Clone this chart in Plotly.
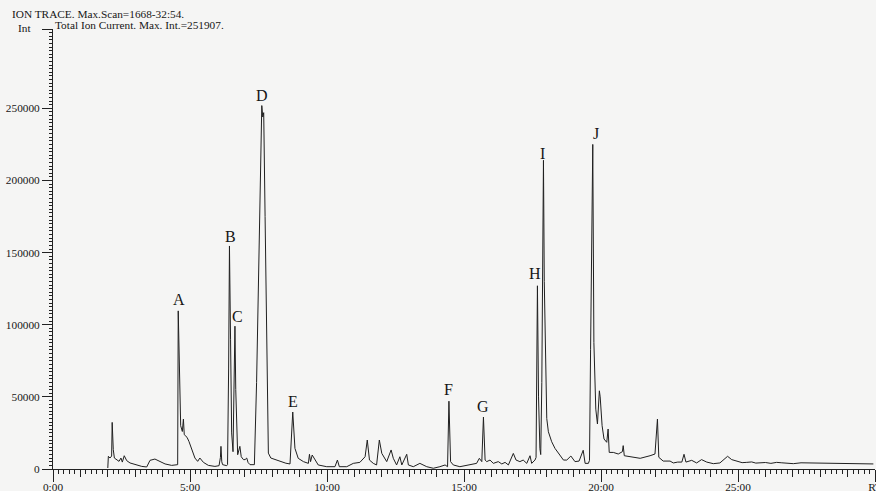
import plotly.graph_objects as go

# ---- data (retention time in minutes, intensity counts) ----
rt_min = [
    2.00, 2.02, 2.08, 2.14, 2.16, 2.20, 2.24, 2.32, 2.41, 2.48, 2.53, 2.60, 2.69, 2.81, 2.99,
    3.24, 3.42, 3.54, 3.72, 3.91, 4.09, 4.33, 4.53, 4.55, 4.57, 4.61, 4.66, 4.72, 4.76, 4.79,
    4.84, 4.89, 4.96, 5.06, 5.18, 5.28, 5.36, 5.49, 5.67, 5.91, 6.06, 6.11, 6.13, 6.16, 6.19,
    6.34, 6.37, 6.41, 6.44, 6.48, 6.52, 6.57, 6.61, 6.64, 6.67, 6.71, 6.74, 6.82, 6.87, 6.95,
    7.01, 7.07, 7.12, 7.19, 7.35, 7.43, 7.50, 7.56, 7.62, 7.655, 7.69, 7.74, 7.80, 7.86, 7.95,
    8.10, 8.30, 8.50, 8.65, 8.68, 8.75, 8.83, 8.95, 9.14, 9.32, 9.36, 9.40, 9.46, 9.56, 9.68,
    9.99, 10.29, 10.38, 10.45, 10.72, 10.96, 11.20, 11.39, 11.47, 11.55, 11.69, 11.81, 11.91, 12.00, 12.18,
    12.34, 12.42, 12.54, 12.66, 12.73, 12.91, 12.97, 13.15, 13.39, 13.64, 13.88, 14.12, 14.31, 14.40, 14.45,
    14.51, 14.61, 14.85, 15.22, 15.46, 15.56, 15.65, 15.71, 15.77, 15.83, 15.95, 16.07, 16.25, 16.38, 16.50,
    16.62, 16.80, 16.90, 17.04, 17.16, 17.29, 17.41, 17.47, 17.59, 17.63, 17.68, 17.72, 17.77, 17.80, 17.84,
    17.90, 17.93, 17.96, 18.02, 18.08, 18.20, 18.32, 18.44, 18.63, 18.75, 18.90, 19.05, 19.20, 19.35, 19.42,
    19.54, 19.58, 19.62, 19.67, 19.70, 19.74, 19.81, 19.87, 19.94, 19.97, 20.04, 20.11, 20.21, 20.26, 20.30,
    20.45, 20.63, 20.78, 20.81, 20.85, 21.18, 21.43, 21.79, 21.97, 22.06, 22.11, 22.27, 22.52, 22.64, 22.80,
    22.95, 23.03, 23.10, 23.31, 23.49, 23.67, 23.86, 24.10, 24.34, 24.53, 24.62, 24.77, 24.95, 25.15, 25.32,
    25.50, 25.65, 25.80, 26.00, 26.20, 26.41, 26.60, 26.80, 27.02, 27.30, 27.63, 27.90, 28.24, 28.50, 28.84,
    29.10, 29.45, 29.70, 29.94,
]
intensity = [
    700, 8800, 7600, 9000, 32300, 13400, 7600, 6500, 5300, 7600, 4800, 9200, 5800, 4200, 3000,
    1800, 1400, 6000, 6900, 5300, 3500, 2500, 3000, 3000, 109600, 60000, 30000, 26000, 34600, 23800,
    22600, 22000, 19200, 13400, 7600, 5300, 7600, 4600, 2500, 1800, 2300, 8000, 15700, 5000, 3000,
    2300, 3000, 70000, 154600, 90000, 25000, 12000, 50000, 99000, 55000, 15000, 9900, 15700, 8500, 6500,
    6500, 7600, 4500, 3000, 3000, 60000, 130000, 195000, 251907, 244000, 247000, 175000, 80000, 11000, 7600,
    6500, 5000, 4000, 3500, 15000, 39500, 14300, 7400, 5100, 3900, 10200, 5100, 9700, 6200, 2800,
    1600, 1600, 6200, 1600, 1600, 3900, 4600, 8500, 20100, 6200, 3900, 2800, 20100, 10800, 5100,
    13200, 7400, 2800, 8500, 2800, 10200, 2800, 1600, 3900, 1600, 500, 1600, 2800, 1600, 47000,
    5100, 2800, 1600, 2800, 3900, 7400, 5100, 36000, 6200, 5100, 6200, 3900, 5100, 3500, 4600,
    2800, 10800, 6200, 5100, 6200, 3900, 9200, 3900, 6200, 8000, 127000, 50000, 14000, 10000, 60000,
    214000, 130000, 88000, 35000, 25800, 18900, 14300, 10800, 6200, 6200, 9000, 5100, 5500, 13000, 3900,
    3900, 6000, 83000, 150000, 225000, 87700, 41500, 31200, 54200, 50000, 30000, 20800, 18500, 27700, 11500,
    11500, 10400, 12000, 16200, 9200, 8100, 7400, 9200, 10400, 34600, 8100, 5500, 5500, 4200, 4800,
    4800, 10200, 4800, 6000, 4200, 6500, 4800, 3700, 4200, 7200, 8800, 6500, 5500, 4400, 4600,
    4900, 4100, 4200, 4500, 3900, 4600, 4300, 3800, 3700, 4300, 4200, 3800, 3700, 4100, 3500,
    3900, 3700, 3400, 3500,
]

peak_labels = ["A", "B", "C", "D", "E", "F", "G", "H", "I", "J"]
peak_label_rt = [4.60, 6.48, 6.75, 7.63, 8.75, 14.43, 15.70, 17.59, 17.86, 19.82]
peak_label_int = [117700, 161000, 106000, 259000, 46600, 55200, 43100, 135500, 218600, 232700]

x_major_vals = [0, 5, 10, 15, 20, 25, 30]
x_major_text = ["0:00", "5:00", "10:00", "15:00", "20:00", "25:00", "RT"]
y_major_vals = [0, 50000, 100000, 150000, 200000, 250000, 305000]
y_major_text = ["0", "50000", "100000", "150000", "200000", "250000", ""]

header_line1 = "ION TRACE. Max.Scan=1668-32:54."
header_line2 = "Total Ion Current. Max. Int.=251907."
y_title = "Int"

SERIF = "Liberation Serif"
INK = "#151515"
BG = "#f5f5f4"

fig = go.Figure()
fig.add_trace(go.Scatter(
    x=rt_min, y=intensity, mode="lines",
    line=dict(color="#202020", width=1),
    showlegend=False, hoverinfo="skip",
))
# empty trace to host the overlay axis carrying the long 5-minute ticks
fig.add_trace(go.Scatter(x=[], y=[], xaxis="x2", showlegend=False, hoverinfo="skip"))

annotations = []
for lab, xr, yi in zip(peak_labels, peak_label_rt, peak_label_int):
    annotations.append(dict(
        x=xr, y=yi, xref="x", yref="y", text=lab, showarrow=False,
        xanchor="center", yanchor="middle",
        font=dict(family=SERIF, size=16, color=INK),
    ))

W, H = 876, 491
L, R, T, B = 53, 1, 29, 22
pw, ph = W - L - R, H - T - B


def px_x(x):
    return (x - L) / pw


def px_y(y):
    return (H - B - y) / ph


annotations += [
    dict(x=px_x(10), y=px_y(14), xref="paper", yref="paper", text=header_line1,
         showarrow=False, xanchor="left", yanchor="middle",
         font=dict(family=SERIF, size=11.3, color=INK)),
    dict(x=px_x(53), y=px_y(25), xref="paper", yref="paper", text=header_line2,
         showarrow=False, xanchor="left", yanchor="middle",
         font=dict(family=SERIF, size=11.3, color=INK)),
    dict(x=px_x(33), y=px_y(28), xref="paper", yref="paper", text=y_title,
         showarrow=False, xanchor="right", yanchor="middle",
         font=dict(family=SERIF, size=11.3, color=INK)),
]

fig.update_layout(
    width=W, height=H,
    template="none",
    paper_bgcolor=BG, plot_bgcolor=BG,
    margin=dict(l=L, r=R, t=T, b=B, pad=0),
    showlegend=False,
    annotations=annotations,
    xaxis=dict(
        range=[0, 30], showline=True, linecolor="#222", linewidth=1,
        ticks="outside", tickmode="linear", tick0=0, dtick=1, ticklen=7,
        tickcolor="#222", tickwidth=1, showticklabels=False,
        showgrid=False, zeroline=False, automargin=False,
        minor=dict(ticks="outside", tick0=0, dtick=0.2, ticklen=4,
                   tickcolor="#222", tickwidth=1, showgrid=False),
    ),
    xaxis2=dict(
        overlaying="x", anchor="y", side="bottom", range=[0, 30],
        tickmode="array", tickvals=x_major_vals, ticktext=x_major_text,
        ticks="outside", ticklen=12, tickcolor="#222", tickwidth=1,
        ticklabelstandoff=-5, ticklabeloverflow="allow",
        tickfont=dict(family=SERIF, size=11.3, color=INK),
        showline=False, showgrid=False, zeroline=False, automargin=False,
    ),
    yaxis=dict(
        range=[0, 305000], showline=True, linecolor="#222", linewidth=1,
        ticks="outside", tickmode="array", tickvals=y_major_vals, ticktext=y_major_text,
        ticklen=10, tickcolor="#222", tickwidth=1,
        tickfont=dict(family=SERIF, size=11.3, color=INK),
        showgrid=False, zeroline=False, automargin=False,
        minor=dict(ticks="outside", tickmode="linear", tick0=0, dtick=2500, ticklen=3,
                   tickcolor="#222", tickwidth=1, showgrid=False),
    ),
)

fig.write_html(
    "out.html",
    config={"displayModeBar": False},
    post_script="document.body.style.margin='0';document.body.style.padding='0';"
                "document.body.style.overflow='hidden';",
)
